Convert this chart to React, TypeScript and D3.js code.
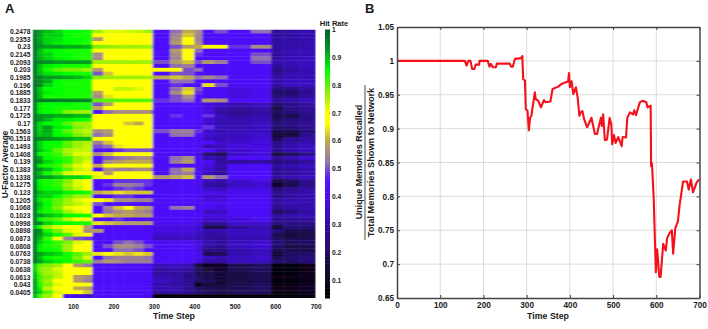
// Hit rate heatmap (A) and unique memory recall line (B)
import React, { useEffect, useRef } from 'react'
import * as d3 from 'd3'

const uFactorLabels = [
  '0.2478', '0.2353', '0.23', '0.2145', '0.2093', '0.203', '0.1985', '0.196', '0.1885', '0.1833',
  '0.177', '0.1725', '0.17', '0.1563', '0.1518', '0.1493', '0.1408', '0.139', '0.1383', '0.1338',
  '0.1275', '0.123', '0.1205', '0.1068', '0.1023', '0.0998', '0.0898', '0.0873', '0.0808', '0.0763',
  '0.0738', '0.0638', '0.0613', '0.043', '0.0405',
]

// time bin edges of the heatmap columns
const timeEdges = [0, 12, 25, 50, 75, 100, 125, 148, 175, 200, 225, 250, 275, 297, 340, 370, 400, 420, 450, 482, 540, 590, 620, 660, 700]

// hit rate in percent, one line per heatmap row, steps 0-148
const earlyHit = [
  [96,92,90,88,85,85,84],[96,92,88,88,85,84,84],[96,91,88,87,85,85,84],[96,92,88,86,85,84,83],
  [96,93,92,92,91,91,90],[96,90,86,85,84,84,84],[96,90,88,85,85,84,84],[96,91,88,86,85,84,83],
  [97,94,93,92,92,92,92],[96,90,86,85,84,84,84],[96,89,84,80,78,78,76],[96,90,87,86,85,84,84],
  [97,95,92,92,91,90,88],[97,94,91,85,84,84,84],[97,95,88,85,84,84,84],[96,89,85,85,84,84,84],
  [96,90,86,85,84,84,84],[96,90,84,84,84,84,83],[97,96,95,94,94,94,94],[95,86,85,85,85,84,84],
  [95,86,85,84,84,84,84],[95,86,85,84,78,76,76],[96,93,92,91,91,90,90],[96,93,90,86,86,85,84],
  [95,88,85,85,80,76,76],[95,88,92,86,85,78,76],[95,88,91,85,80,76,74],[95,89,90,85,84,78,76],
  [97,95,93,92,91,90,90],[95,88,85,85,80,76,75],[95,88,85,84,80,76,74],[96,90,86,80,75,74,74],
  [96,85,84,82,76,72,72],[96,92,85,84,82,76,74],[96,94,88,85,82,76,72],[96,86,84,82,76,72,70],
  [96,93,90,85,80,74,72],[96,90,84,80,72,70,70],[96,93,92,90,88,88,86],[96,85,84,82,78,72,70],
  [96,86,84,82,76,72,68],[96,86,85,84,78,74,68],[96,90,88,88,86,85,84],[96,88,88,85,80,76,76],
  [96,86,84,80,76,72,70],[96,90,85,80,76,74,72],[96,88,84,78,72,70,68],[96,86,84,82,76,72,68],
  [96,93,90,88,85,85,84],[96,85,82,80,74,68,68],[96,94,88,85,85,84,84],[90,84,76,72,68,66,58],
  [96,94,84,78,72,68,56],[96,92,88,84,80,72,66],[96,90,82,70,54,50,48],[96,88,85,82,78,72,68],
  [96,86,84,82,76,70,68],[96,86,85,84,76,70,68],[96,92,90,88,84,80,76],[96,90,85,84,84,78,72],
  [96,92,88,86,84,82,80],[88,80,78,76,70,58,54],[88,78,76,72,68,66,66],[90,80,76,74,68,66,66],
  [90,82,78,74,70,58,56],[92,82,76,70,66,58,54],[92,84,78,72,68,66,66],[92,86,74,70,66,60,58],
  [92,88,80,72,68,66,62],[90,82,76,66,40,38,36],
]

// steps 148-297
const middleHit = [
  [76,72,72,73,74,76],[66,68,68,67,67,67],[58,67,67,67,67,68],[67,67,67,67,67,67],
  [78,77,76,76,76,76],[67,67,67,67,67,67],[56,66,67,67,67,67],[56,66,67,67,67,67],
  [76,76,76,76,76,76],[67,67,67,67,67,67],[58,66,67,67,67,67],[50,62,67,67,67,67],
  [78,76,76,76,76,76],[68,67,67,67,68,68],[67,67,67,67,67,66],[66,68,74,74,72,66],
  [58,66,67,70,70,66],[56,64,67,67,67,67],[80,80,80,80,80,80],[50,58,67,67,67,67],
  [60,67,67,67,67,67],[46,52,56,56,56,56],[67,67,67,67,67,67],[67,67,67,67,67,67],
  [67,67,68,62,60,66],[66,67,67,67,66,66],[56,58,66,67,67,67],[52,56,66,67,67,67],
  [67,67,67,67,67,67],[54,62,66,67,67,67],[50,52,64,67,67,67],[46,46,48,50,50,50],
  [56,62,66,66,66,66],[46,50,52,54,56,56],[46,56,58,60,60,60],[60,66,67,67,67,67],
  [46,56,54,54,56,56],[66,58,67,67,67,66],[72,66,67,67,67,68],[46,46,48,48,48,48],
  [44,48,54,54,52,48],[44,46,48,50,48,46],[60,62,64,62,62,62],[44,46,48,48,46,44],
  [66,64,56,56,54,54],[50,46,46,46,46,46],[46,54,62,66,60,58],[46,52,56,58,56,54],
  [66,62,60,60,58,58],[44,46,48,46,46,46],[64,62,60,58,58,58],[44,44,44,44,44,44],
  [58,46,44,44,44,44],[45,44,44,44,44,44],[43,43,43,43,43,43],[44,44,50,52,50,46],
  [44,50,56,56,54,50],[44,46,52,52,50,46],[64,66,64,62,64,62],[46,52,54,54,54,52],
  [54,58,56,54,54,54],[42,42,43,43,43,42],[43,43,43,43,43,42],[43,43,44,44,43,42],
  [43,44,44,44,43,42],[44,44,44,44,43,42],[44,44,44,44,43,42],[44,44,44,44,43,42],
  [44,44,44,44,43,42],[42,42,42,42,42,40],
]

// steps 297-700
const lateHit = [
  [45,52,60,56,46,50,46,52,28,30,32],[44,55,62,55,44,43,43,44,30,31,32],[45,56,66,54,43,43,43,43,30,31,32],
  [46,58,66,56,44,44,43,43,30,31,32],[44,50,58,60,68,66,48,56,30,31,32],[46,58,66,52,44,44,44,46,30,32,33],
  [45,56,68,48,43,46,46,50,30,32,33],[45,55,66,46,43,46,46,52,30,33,34],[50,58,62,50,58,54,44,50,32,33,34],
  [44,52,54,46,44,43,43,43,30,32,34],[68,68,50,52,42,42,42,42,26,30,32],[45,50,50,46,43,43,42,42,28,32,32],
  [60,62,60,52,56,52,43,42,32,33,33],[46,52,52,46,44,43,42,42,32,34,34],[44,48,46,44,64,50,42,42,30,34,34],
  [45,52,62,50,42,42,38,40,24,26,30],[45,56,64,48,42,42,38,40,22,22,28],[44,50,56,46,42,42,38,40,24,26,30],
  [48,50,52,46,58,56,44,44,30,32,34],[44,44,46,44,38,36,32,34,22,26,30],[43,44,45,44,38,32,30,32,16,26,28],
  [43,44,44,42,38,30,28,30,20,24,28],[44,48,46,44,48,34,30,32,18,18,26],[44,46,45,44,36,32,32,32,20,24,26],
  [44,44,46,42,36,32,32,34,24,26,28],[44,44,44,42,48,34,32,34,22,24,28],[50,54,54,48,36,32,34,34,18,18,24],
  [46,52,52,46,36,34,34,36,14,14,28],[44,44,44,42,34,32,34,36,18,28,30],[44,46,46,42,46,36,36,38,26,30,32],
  [44,45,44,42,32,34,38,38,28,32,34],[43,44,44,42,46,34,36,38,28,32,34],[43,44,44,38,24,20,36,38,16,20,28],
  [43,52,56,42,32,30,42,42,28,32,36],[44,54,58,44,40,30,30,30,24,26,30],[43,45,44,42,38,32,42,44,30,32,34],
  [44,52,60,45,36,30,42,44,28,30,32],[43,52,54,42,34,30,42,44,28,30,32],[58,60,62,44,58,52,46,46,30,32,34],
  [40,42,42,40,34,32,36,38,16,20,28],[40,42,42,40,30,28,34,36,12,18,26],[42,42,42,40,34,34,38,38,22,28,30],
  [42,43,43,42,40,38,40,40,28,30,32],[42,43,43,42,36,36,40,40,26,30,32],[42,43,44,42,38,38,42,42,30,32,32],
  [43,44,44,42,42,40,43,43,30,32,32],[44,52,54,42,40,38,43,43,28,30,32],[44,45,45,42,34,34,42,42,20,26,30],
  [43,44,44,42,38,38,40,42,30,32,33],[42,42,42,40,36,36,38,40,28,28,30],[40,40,40,38,30,30,36,36,26,26,26],
  [38,38,38,36,18,18,30,32,14,24,24],[38,38,38,36,32,32,34,34,24,18,18],[36,36,36,34,30,30,34,34,18,14,16],
  [34,34,34,32,30,28,32,32,20,18,18],[42,42,42,38,32,30,34,36,24,20,22],[43,43,43,38,30,28,34,36,22,16,18],
  [43,44,43,38,26,26,32,34,18,18,18],[44,44,44,40,18,20,32,34,14,20,22],[42,43,43,40,34,32,34,36,18,22,24],
  [42,42,42,38,30,30,34,34,22,22,24],[34,34,32,14,10,10,18,20,6,6,8],[30,32,30,20,14,12,18,20,6,6,8],
  [30,30,28,18,18,14,16,18,6,6,8],[32,30,26,22,16,14,16,18,8,8,10],[34,32,28,20,20,14,16,18,6,6,8],
  [32,30,28,10,14,14,18,20,8,8,10],[32,32,28,20,18,16,18,20,8,8,10],[30,30,28,24,20,18,20,20,8,8,10],
  [6,6,6,6,6,6,6,6,5,5,5],
]

// colour stops of the hit rate bar
const colorStops = [0.035, 0.1, 0.2, 0.3, 0.4, 0.46, 0.52, 0.6, 0.66, 0.7, 0.77, 0.85, 0.93, 1]
const colorValues = ['#000000', '#100520', '#200a60', '#300aa0', '#4a08f0', '#5010ff', '#9070b0', '#c0a850', '#ffff00', '#ffff00', '#90f000', '#00ff00', '#009020', '#00602a']
const colorbarTicks = [0.1, 0.2, 0.3, 0.4, 0.5, 0.6, 0.7, 0.8, 0.9, 1]

// recall curve
const recallSteps = [0,157,161,165,170,174,179,182,190,191,210,214,217,222,229,231,261,264,268,273,287,290,292,296,298,302,305,308,311,319,321,327,333,340,344,355,360,373,381,396,398,400,404,408,414,418,422,425,429,433,440,450,458,463,468,472,474,477,481,486,492,496,498,502,506,512,520,522,530,533,539,546,549,553,562,568,577,580,587,588,590,594,599,602,607,610,616,622,625,630,636,639,644,650,654,662,671,675,680,685,693,699]
const recallValues = [1,1,0.993,1,1,0.988,0.988,0.9945,0.9945,1,1,0.9915,0.9955,0.9905,0.9905,0.996,0.996,0.9915,0.9915,1.003,1.004,1.007,0.973,0.971,0.929,0.926,0.8975,0.916,0.919,0.9536,0.9437,0.941,0.9313,0.942,0.939,0.94,0.9586,0.962,0.966,0.97,0.982,0.961,0.97,0.951,0.961,0.946,0.919,0.924,0.926,0.914,0.902,0.916,0.892,0.892,0.906,0.916,0.904,0.921,0.883,0.884,0.916,0.906,0.877,0.8906,0.879,0.8876,0.874,0.8876,0.887,0.916,0.924,0.921,0.927,0.92,0.939,0.941,0.939,0.9313,0.934,0.8445,0.849,0.7974,0.688,0.722,0.681,0.681,0.73,0.72,0.738,0.745,0.75,0.7155,0.753,0.763,0.787,0.822,0.822,0.81,0.825,0.806,0.82,0.825]

const FONT = '"Liberation Sans", Arial, sans-serif'
const TEXT = '#1a1a1a'

export default function App() {
  const ref = useRef<SVGSVGElement | null>(null)

  useEffect(() => {
    const svg = d3.select(ref.current)
    svg.selectAll('*').remove()
    svg.attr('font-family', FONT).attr('font-weight', 'bold').attr('fill', TEXT)

    const label = (x: number, y: number, text: string, size: number, anchor = 'middle', rotate = false) =>
      svg
        .append('text')
        .attr('transform', `translate(${x},${y})` + (rotate ? ' rotate(-90)' : ''))
        .attr('text-anchor', anchor)
        .attr('font-size', size)
        .text(text)

    label(5, 13, 'A', 13, 'start')
    label(365, 13, 'B', 13, 'start')

    // Panel A: heatmap
    const rows = earlyHit.map((d, i) => [...d, ...middleHit[i], ...lateHit[i]])
    const x = d3.scaleLinear().domain([0, 700]).range([32.5, 315.7])
    const y = d3.scaleBand<number>().domain(d3.range(rows.length)).range([29.5, 298])
    const color = d3.scaleLinear<string>().domain(colorStops).range(colorValues).interpolate(d3.interpolateRgb).clamp(true)

    // the source image is soft, so the cells get a light blur, kept inside the plot box
    const defs = svg.append('defs')
    defs.append('filter').attr('id', 'soft').append('feGaussianBlur').attr('stdDeviation', '1.1 0.45')
    defs
      .append('clipPath')
      .attr('id', 'heat-box')
      .append('rect')
      .attr('x', x(0))
      .attr('y', 29.5)
      .attr('width', x(700) - x(0))
      .attr('height', 268.5)

    const heat = svg.append('g').attr('clip-path', 'url(#heat-box)').append('g').attr('filter', 'url(#soft)')
    rows.forEach((row, i) => {
      heat
        .append('g')
        .selectAll('rect')
        .data(row)
        .join('rect')
        .attr('x', (_, j) => x(timeEdges[j]))
        .attr('y', y(i)!)
        .attr('width', (_, j) => x(timeEdges[j + 1]) - x(timeEdges[j]) + 0.4)
        .attr('height', y.bandwidth() + 0.4)
        .attr('fill', (d) => color(d / 100))
    })

    const heatAxis = svg
      .append('g')
      .attr('transform', 'translate(0,298)')
      .call(d3.axisBottom(x).tickValues([100, 200, 300, 400, 500, 600, 700]).tickSize(0).tickPadding(6))
    heatAxis.select('.domain').remove()
    heatAxis.selectAll('text').attr('font-size', 6.6).attr('fill', TEXT).attr('font-family', FONT)

    const rowLabels = svg.append('g').attr('text-anchor', 'end').attr('font-size', 6.7)
    uFactorLabels.forEach((d, i) => {
      rowLabels
        .append('text')
        .attr('x', 30.5)
        .attr('y', y(i * 2)! + y.bandwidth() / 2 + 2.6)
        .text(d)
    })
    label(7.5, 164.5, 'U-Factor Average', 8.2, 'middle', true)
    label(174, 318.5, 'Time Step', 8.8)

    // Colour bar
    const barScale = d3.scaleLinear().domain([0.035, 1]).range([298, 29.5])
    svg
      .append('g')
      .selectAll('rect')
      .data(d3.range(0.035, 1, 0.005))
      .join('rect')
      .attr('x', 325)
      .attr('width', 5)
      .attr('y', (d) => barScale(d + 0.005))
      .attr('height', (d) => barScale(d) - barScale(d + 0.005) + 0.5)
      .attr('fill', (d) => color(d))
    const barAxis = svg
      .append('g')
      .attr('transform', 'translate(330,0)')
      .call(d3.axisRight(barScale).tickValues(colorbarTicks).tickFormat(d3.format('~g') as any).tickSize(-1).tickPadding(2))
    barAxis.select('.domain').remove()
    barAxis.selectAll('text').attr('font-size', 6.7).attr('fill', TEXT).attr('font-family', FONT)
    barAxis.selectAll('line').attr('stroke', '#555').attr('stroke-width', 0.5)
    label(334, 25.5, 'Hit Rate', 7.6)

    // Panel B: recall line
    const xB = d3.scaleLinear().domain([0, 700]).range([397, 699.5])
    const yB = d3.scaleLinear().domain([0.65, 1.05]).range([298, 27])
    const xTicks = d3.range(0, 701, 100)
    const yTicks = [0.65, 0.7, 0.75, 0.8, 0.85, 0.9, 0.95, 1, 1.05]

    const grid = svg.append('g').attr('stroke', '#dcdcdc').attr('stroke-width', 1)
    xTicks.slice(1, -1).forEach((d) => {
      grid.append('line').attr('x1', xB(d)).attr('x2', xB(d)).attr('y1', 27).attr('y2', 298)
    })
    yTicks.slice(1, -1).forEach((d) => {
      grid.append('line').attr('y1', yB(d)).attr('y2', yB(d)).attr('x1', 397).attr('x2', 699.5)
    })

    const line = d3
      .line<number>()
      .x((d) => xB(d))
      .y((_, i) => yB(recallValues[i]))
    svg
      .append('path')
      .datum(recallSteps)
      .attr('d', line)
      .attr('fill', 'none')
      .attr('stroke', '#f5101a')
      .attr('stroke-width', 2.1)
      .attr('stroke-linejoin', 'round')

    const styleFrame = (g: any) => {
      g.selectAll('.domain').attr('stroke', '#444').attr('stroke-width', 1.5)
      g.selectAll('.tick line').attr('stroke', '#444').attr('stroke-width', 1)
      g.selectAll('text').attr('font-size', 8.2).attr('fill', TEXT).attr('font-family', FONT)
    }
    svg.append('g').attr('transform', 'translate(0,298)')
      .call(d3.axisBottom(xB).tickValues(xTicks).tickFormat(d3.format('d') as any).tickSizeInner(-3).tickSizeOuter(0).tickPadding(4))
      .call(styleFrame)
    svg.append('g').attr('transform', 'translate(397,0)')
      .call(d3.axisLeft(yB).tickValues(yTicks).tickFormat(d3.format('~g') as any).tickSizeInner(-3).tickSizeOuter(0).tickPadding(3))
      .call(styleFrame)
    svg.append('g').attr('transform', 'translate(0,27)')
      .call(d3.axisTop(xB).tickValues(xTicks).tickFormat(() => '').tickSizeInner(-3).tickSizeOuter(0))
      .call(styleFrame)
    svg.append('g').attr('transform', 'translate(699.5,0)')
      .call(d3.axisRight(yB).tickValues(yTicks).tickFormat(() => '').tickSizeInner(-3).tickSizeOuter(0))
      .call(styleFrame)

    label(362, 162, 'Unique Memories Recalled', 9, 'middle', true)
    svg.append('line').attr('x1', 365).attr('x2', 365).attr('y1', 85).attr('y2', 240).attr('stroke', TEXT).attr('stroke-width', 0.8)
    label(374, 162.5, 'Total Memories Shown to Network', 9.2, 'middle', true)
    label(548, 318.5, 'Time Step', 8.8)
  }, [])

  return <svg ref={ref} width={708} height={329} style={{ position: 'absolute', left: 0, top: 0 }} />
}
